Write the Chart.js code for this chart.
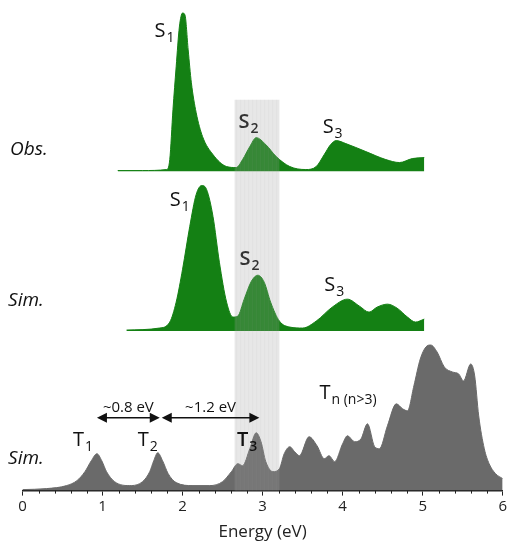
<!DOCTYPE html>
<html>
<head>
<meta charset="utf-8">
<script src="https://cdn.jsdelivr.net/npm/chart.js@4/dist/chart.umd.min.js"></script>
<style>
  html, body { margin: 0; padding: 0; background: #fff; }
  #wrap { width: 509px; height: 542px; position: relative; }
</style>
</head>
<body>
<div id="wrap"><canvas id="spectra"></canvas></div>
<script>
// Observed singlet absorption (Obs.)
const obsEnergy    = [1.19, 1.50, 1.80, 1.84, 1.88, 1.92, 1.96, 2.00, 2.03, 2.07, 2.11, 2.17, 2.25, 2.38, 2.55, 2.67, 2.75, 2.84, 2.92, 3.04, 3.17, 3.34, 3.54, 3.67, 3.77, 3.85, 3.92, 4.04, 4.29, 4.54, 4.71, 4.87, 5.02];
const obsIntensity = [1, 1, 2, 12, 62, 105, 145, 159, 157, 122, 89, 59, 35, 17, 5, 4, 12, 25, 34, 27, 15, 5, 2, 5, 17, 27, 31, 28, 20, 12, 9, 13, 14];

// Simulated singlets (Sim.)
const simEnergy    = [1.30, 1.71, 1.84, 1.92, 2.00, 2.09, 2.17, 2.24, 2.30, 2.38, 2.46, 2.55, 2.63, 2.69, 2.77, 2.86, 2.94, 3.02, 3.10, 3.21, 3.34, 3.50, 3.67, 3.87, 4.06, 4.21, 4.33, 4.43, 4.56, 4.68, 4.81, 4.91, 5.02];
const simIntensity = [1, 3, 9, 29, 62, 105, 137, 146, 142, 115, 69, 29, 14, 15, 32, 50, 56, 49, 29, 10, 4, 3, 10, 24, 32, 25, 19, 24, 27, 23, 14, 9, 12];

// Simulated triplets (Sim.)
const tripletEnergy    = [0, 0.30, 0.55, 0.68, 0.78, 0.86, 0.93, 0.99, 1.05, 1.15, 1.34, 1.50, 1.59, 1.64, 1.69, 1.75, 1.82, 1.92, 2.13, 2.34, 2.50, 2.61, 2.69, 2.75, 2.84, 2.92, 2.98, 3.04, 3.13, 3.21, 3.27, 3.34, 3.40, 3.46, 3.58, 3.68, 3.77, 3.83, 3.90, 4.00, 4.06, 4.15, 4.23, 4.31, 4.40, 4.46, 4.56, 4.67, 4.75, 4.81, 4.89, 4.97, 5.04, 5.10, 5.18, 5.27, 5.37, 5.45, 5.51, 5.60, 5.65, 5.70, 5.77, 5.83, 5.91, 6.00];
const tripletIntensity = [1, 2, 5, 10, 19, 30, 37, 30, 19, 9, 5, 9, 19, 30, 38, 30, 17, 8, 5, 5, 9, 19, 27, 25, 42, 58, 49, 29, 19, 22, 37, 44, 39, 35, 54, 45, 32, 35, 29, 47, 55, 49, 52, 67, 44, 42, 65, 87, 82, 80, 105, 132, 144, 146, 139, 124, 119, 117, 110, 127, 115, 75, 42, 27, 17, 12];

// Axis
const energyTicks = [0, 1, 2, 3, 4, 5, 6];
const minorStep = 0.2;
const bandRange = [2.65, 3.21];   // highlighted S2 / T3 region (eV)

const GREEN = 'rgb(20,128,20)';
const GRAY  = 'rgb(106,106,106)';

const pts = (xs, ys) => xs.map((x, i) => ({ x, y: ys[i] }));

// text annotations: [text, subscript, axis, eV, height, options]
const notes = [
  ['S', '1', 'yObs', 1.65, 135, {}],
  ['S', '2', 'yObs', 2.70, 44, { bold: true, color: '#333' }],
  ['S', '3', 'yObs', 3.75, 39, {}],
  ['Obs.', '', 'yObs', -0.155, 17, { italic: true }],
  ['S', '1', 'ySim', 1.84, 125, {}],
  ['S', '2', 'ySim', 2.71, 66, { bold: true, color: '#333' }],
  ['S', '3', 'ySim', 3.77, 40, {}],
  ['Sim.', '', 'ySim', -0.18, 25, { italic: true }],
  ['Sim.', '', 'yT', -0.18, 27, { italic: true }],
  ['T', '1', 'yT', 0.63, 45, {}],
  ['T', '2', 'yT', 1.44, 45, {}],
  ['T', '3', 'yT', 2.68, 45, { bold: true }],
  ['T', 'n (n>3)', 'yT', 3.71, 92, {}]
];
const gapArrows = [[0.93, 1.715, '~0.8 eV'], [1.74, 2.96, '~1.2 eV']];

const overlay = {
  id: 'overlay',
  afterDatasetsDraw(chart) {
    const { ctx, scales } = chart;
    const xs = scales.x;
    const x1 = xs.getPixelForValue(bandRange[0]);
    const x2 = xs.getPixelForValue(bandRange[1]);
    const top = scales.yObs.getPixelForValue(72);
    const bottom = scales.yT.getPixelForValue(0);
    ctx.save();
    ctx.fillStyle = 'rgba(160,160,160,0.25)';
    ctx.fillRect(x1, top, x2 - x1, bottom - top);
    ctx.strokeStyle = 'rgba(150,150,150,0.07)';
    ctx.lineWidth = 1;
    for (let x = x1 + 2; x < x2; x += 4) {
      ctx.beginPath(); ctx.moveTo(x, top); ctx.lineTo(x, bottom); ctx.stroke();
    }
    ctx.restore();
  },
  afterDraw(chart) {
    const { ctx, scales } = chart;
    const xs = scales.x;
    ctx.save();

    // minor ticks
    const axisY = scales.yT.getPixelForValue(0);
    ctx.strokeStyle = '#222';
    ctx.lineWidth = 1;
    for (let i = 0; i <= 30; i++) {
      if (i % 5 === 0) continue;
      const px = Math.round(xs.getPixelForValue(i * minorStep)) + 0.5;
      ctx.beginPath(); ctx.moveTo(px, axisY); ctx.lineTo(px, axisY + 3); ctx.stroke();
    }

    // labels
    ctx.textBaseline = 'alphabetic';
    ctx.textAlign = 'left';
    notes.forEach(([t, sub, ax, ev, h, o]) => {
      const px = xs.getPixelForValue(ev);
      const py = scales[ax].getPixelForValue(h);
      const size = o.italic ? 19 : 20;
      ctx.fillStyle = o.color || '#111';
      ctx.font = (o.italic ? 'italic ' : '') + (o.bold ? '600 ' : '') + size + 'px "Open Sans"';
      ctx.fillText(t, px, py);
      if (sub) {
        const w = ctx.measureText(t).width;
        ctx.font = (o.bold ? '600 ' : '') + '14px "Open Sans"';
        ctx.fillText(sub, px + w + 1, py + 5);
      }
    });

    // gap arrows
    const ay = scales.yT.getPixelForValue(73);
    ctx.strokeStyle = '#111';
    ctx.fillStyle = '#111';
    ctx.lineWidth = 1.5;
    gapArrows.forEach(([a, b, txt]) => {
      const xa = xs.getPixelForValue(a), xb = xs.getPixelForValue(b);
      ctx.beginPath(); ctx.moveTo(xa + 4, ay); ctx.lineTo(xb - 4, ay); ctx.stroke();
      ctx.beginPath(); ctx.moveTo(xa, ay); ctx.lineTo(xa + 10, ay - 5); ctx.lineTo(xa + 10, ay + 5); ctx.closePath(); ctx.fill();
      ctx.beginPath(); ctx.moveTo(xb, ay); ctx.lineTo(xb - 10, ay - 5); ctx.lineTo(xb - 10, ay + 5); ctx.closePath(); ctx.fill();
      ctx.font = '15px "Open Sans"';
      ctx.textAlign = 'center';
      ctx.fillText(txt, (xa + xb) / 2, ay - 6);
      ctx.textAlign = 'left';
    });
    ctx.restore();
  }
};

const panelAxis = (weight) => ({
  type: 'linear', display: false, stack: 'panels', stackWeight: 1, weight,
  min: 0, max: 160
});

const area = (data, axis, color) => ({
  data, yAxisID: axis,
  borderColor: color, backgroundColor: color, borderWidth: 1,
  fill: 'origin', pointRadius: 0, cubicInterpolationMode: 'monotone'
});

Chart.defaults.font.family = '"Open Sans"';

new Chart(document.getElementById('spectra'), {
  type: 'line',
  data: {
    datasets: [
      area(pts(obsEnergy, obsIntensity), 'yObs', GREEN),
      area(pts(simEnergy, simIntensity), 'ySim', GREEN),
      area(pts(tripletEnergy, tripletIntensity), 'yT', GRAY)
    ]
  },
  options: {
    responsive: true,
    maintainAspectRatio: false,
    animation: false,
    layout: { padding: { left: 22.5, right: 6, top: 12, bottom: 0 } },
    plugins: { legend: { display: false }, tooltip: { enabled: false } },
    scales: {
      x: {
        type: 'linear', min: 0, max: 6,
        afterBuildTicks: s => { s.ticks = energyTicks.map(v => ({ value: v })); },
        border: { display: true, color: '#222', width: 1.5 },
        grid: { display: true, drawOnChartArea: false, drawTicks: true, tickLength: 5, color: '#222' },
        ticks: { padding: 2, color: '#222', maxRotation: 0, font: { size: 15 } },
        title: { display: true, text: 'Energy (eV)', color: '#222', font: { size: 17 }, padding: { top: 4, bottom: 0 } }
      },
      yObs: panelAxis(3),
      ySim: panelAxis(2),
      yT: panelAxis(1)
    }
  },
  plugins: [overlay]
});
</script>
</body>
</html>
